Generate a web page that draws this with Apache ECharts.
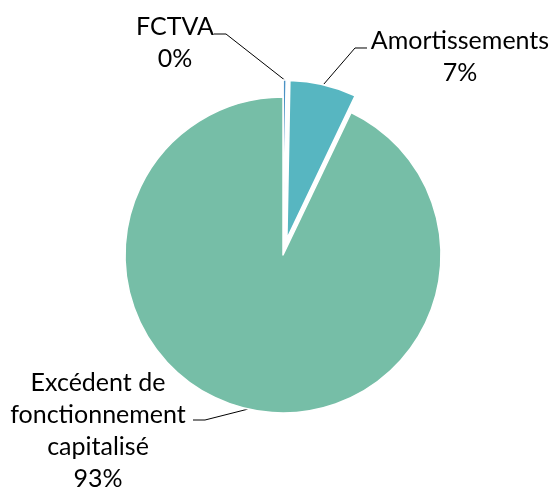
<!DOCTYPE html>
<html>
<head>
<meta charset="utf-8">
<script src="https://cdn.jsdelivr.net/npm/echarts@6/dist/echarts.min.js"></script>
<style>
  html, body { margin: 0; padding: 0; background: #fff; }
  #main { width: 551px; height: 489px; }
</style>
</head>
<body>
<div id="main"></div>
<script>
// données
var categories = ['FCTVA', 'Amortissements', 'Excédent de\nfonctionnement\ncapitalisé']
var values = [0.3, 6.8, 92.9]
var colors = ['#4a92c4', '#57b6c1', '#76bea7']
var exploded = [true, true, false]

// mise en page des étiquettes : centre du texte, coude et bout du trait
var labelPos = [[175, 43], [460, 57], [98, 431]]
var lineElbow = [[226, 34], [355, 48], [205, 420]]
var lineEnd = [[214, 34], [367, 48], [193, 420]]
var explodeDist = 17

var myChart = echarts.init(document.getElementById('main'))

var total = values.reduce(function (a, b) { return a + b }, 0)

// décalage des parts détachées (le texte et le trait suivent la part)
var shifts = []
var cum = 0
values.forEach(function (v, i) {
    var a = (cum + v / 2) / total * Math.PI * 2
    cum += v
    shifts.push(exploded[i] ? [explodeDist * Math.sin(a), -explodeDist * Math.cos(a)] : [0, 0])
})

var pieData = categories.map(function (name, i) {
    return {
        name: name,
        value: values[i],
        selected: exploded[i],
        itemStyle: { color: colors[i] }
    }
})

myChart.setOption({
    animation: false,
    series: [{
        type: 'pie',
        center: [283, 255],
        radius: [0, 158],
        startAngle: 90,
        clockwise: true,
        selectedMode: 'multiple',
        selectedOffset: explodeDist,
        avoidLabelOverlap: false,
        itemStyle: {
            borderColor: '#fff',
            borderWidth: 1.5
        },
        label: {
            show: true,
            color: '#000',
            fontFamily: 'Lato',
            fontSize: 25,
            lineHeight: 32,
            overflow: 'none',
            formatter: function (p) {
                return p.name + '\n' + Math.round(p.percent) + '%'
            }
        },
        labelLine: {
            show: true,
            lineStyle: { color: '#000', width: 1 }
        },
        labelLayout: function (params) {
            var i = params.dataIndex
            var r = params.labelRect
            var s = shifts[i]
            var anchorX = params.align === 'right' ? r.x + r.width
                : params.align === 'center' ? r.x + r.width / 2 : r.x
            var start = params.labelLinePoints ? params.labelLinePoints[0] : lineElbow[i]
            return {
                dx: labelPos[i][0] - anchorX - s[0],
                dy: labelPos[i][1] - (r.y + r.height / 2) - s[1],
                align: 'center',
                labelLinePoints: [
                    start,
                    [lineElbow[i][0] - s[0], lineElbow[i][1] - s[1]],
                    [lineEnd[i][0] - s[0], lineEnd[i][1] - s[1]]
                ]
            }
        },
        emphasis: { disabled: true },
        data: pieData
    }]
})
</script>
</body>
</html>
